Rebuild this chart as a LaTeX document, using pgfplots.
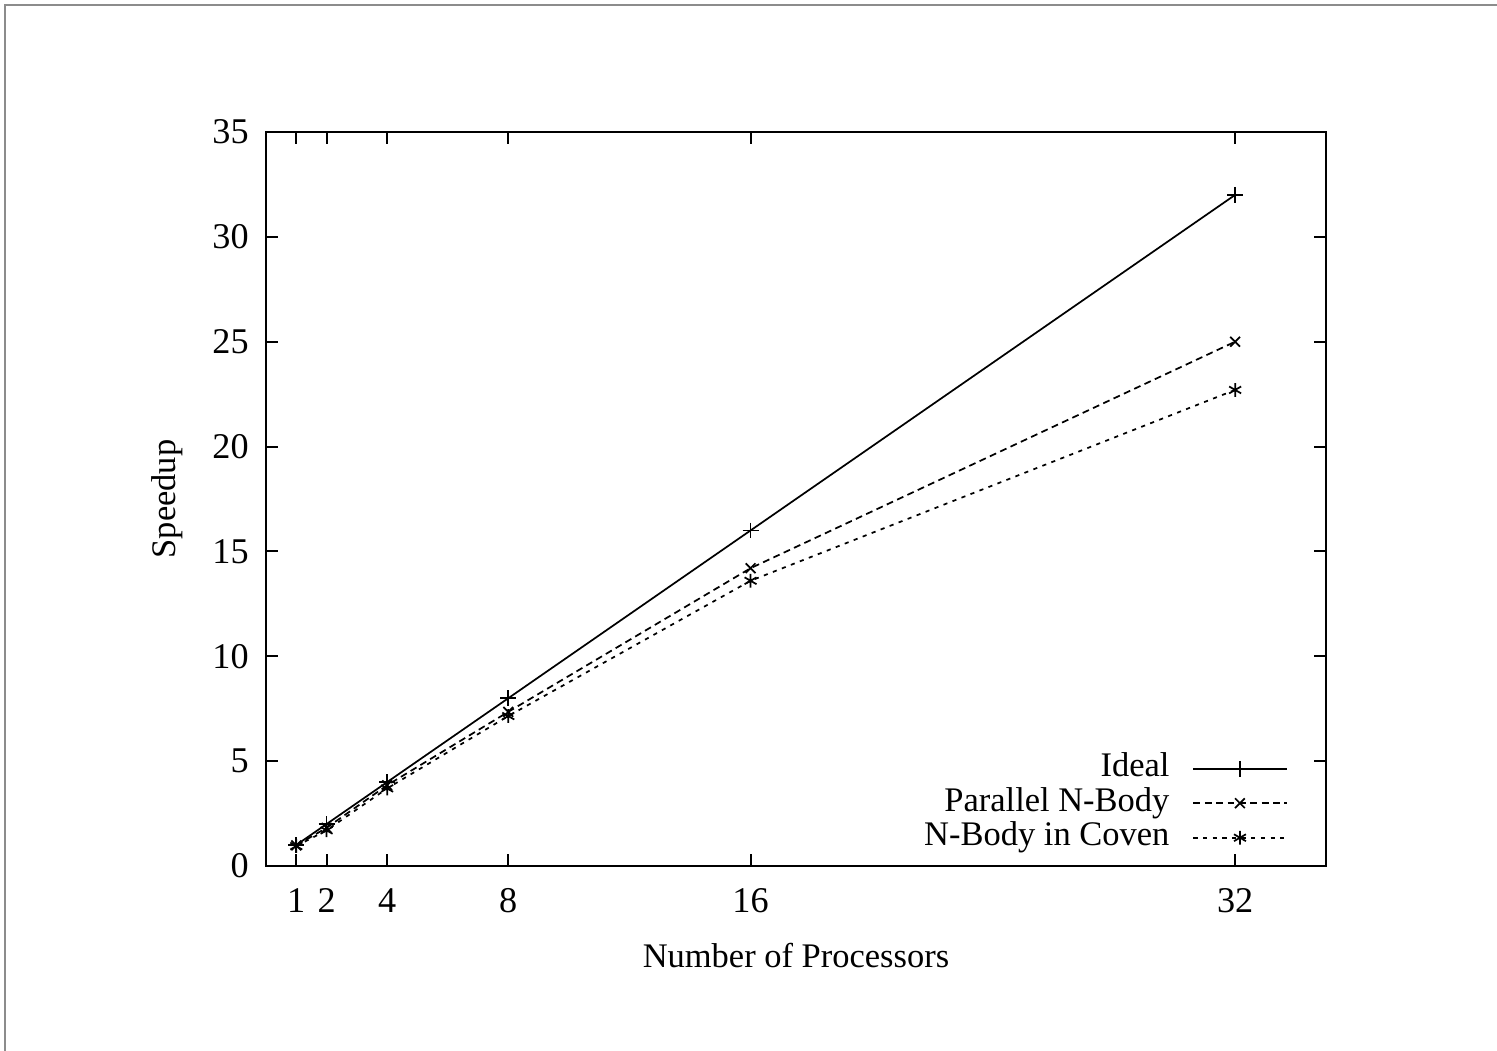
\documentclass[border=0pt]{standalone}
\usepackage{fontspec}
\setmainfont{Liberation Serif}
\usepackage{pgfplots}
\pgfplotsset{compat=1.18}

\begin{document}
\begin{tikzpicture}
\fontsize{10}{12}\selectfont
% page = 1497 x 1051 px at 0.29pt per px
\useasboundingbox (0,0) rectangle (434.13pt,304.79pt);
\draw[gray!90, line width=0.6pt] (1.5pt,0) -- (1.5pt,303.3pt) -- (434.13pt,303.3pt);
\begin{axis}[
    at={(77.14pt,53.65pt)}, anchor=south west,
    scale only axis,
    width=307.4pt, height=212.86pt,
    xmin=0, xmax=35, ymin=0, ymax=35,
    xtick={1,2,4,8,16,32},
    ytick={0,5,...,35},
    tick align=inside,
    major tick length=3.5pt,
    axis line style={line width=0.55pt},
    every tick/.style={black, line width=0.55pt},
    /pgf/number format/assume math mode=true,
    ticklabel style={font=\fontsize{10.5}{12}\selectfont},
    xticklabel style={yshift=-3pt},
    yticklabel style={xshift=-1.5pt},
    xlabel={Number of Processors},
    ylabel={Speedup},
    xlabel style={yshift=-2pt},
    ylabel style={yshift=1.7pt},
    legend plot pos=right,
    legend cell align=right,
    legend style={draw=none, fill=none, at={(1,0)}, anchor=south east,
        xshift=-11pt, yshift=3pt, inner sep=0pt, row sep=0pt,
        column sep=6.7pt,
        nodes={inner sep=0pt, text height=7.3pt, text depth=2.7pt}},
    legend image code/.code={
        \draw[mark repeat=2, mark phase=2] plot coordinates {(0pt,0pt) (13.5pt,0pt) (27pt,0pt)};},
]
\addplot[black, line width=0.5pt, mark=+, mark size=2.3pt, mark options={solid}]
    coordinates {(1,1) (2,2) (4,4) (8,8) (16,16) (32,32)};
\addlegendentry{Ideal}
\addplot[black, line width=0.5pt, dash pattern=on 2pt off 1.3pt, mark=x, mark size=2pt, mark options={solid}]
    coordinates {(1,0.98) (2,1.82) (4,3.85) (8,7.35) (16,14.2) (32,25.0)};
\addlegendentry{Parallel N-Body}
\addplot[black, line width=0.5pt, dash pattern=on 1.2pt off 1.6pt, mark=asterisk, mark size=2pt, mark options={solid}]
    coordinates {(1,0.95) (2,1.7) (4,3.7) (8,7.15) (16,13.6) (32,22.7)};
\addlegendentry{N-Body in Coven}
\end{axis}
\end{tikzpicture}
\end{document}
